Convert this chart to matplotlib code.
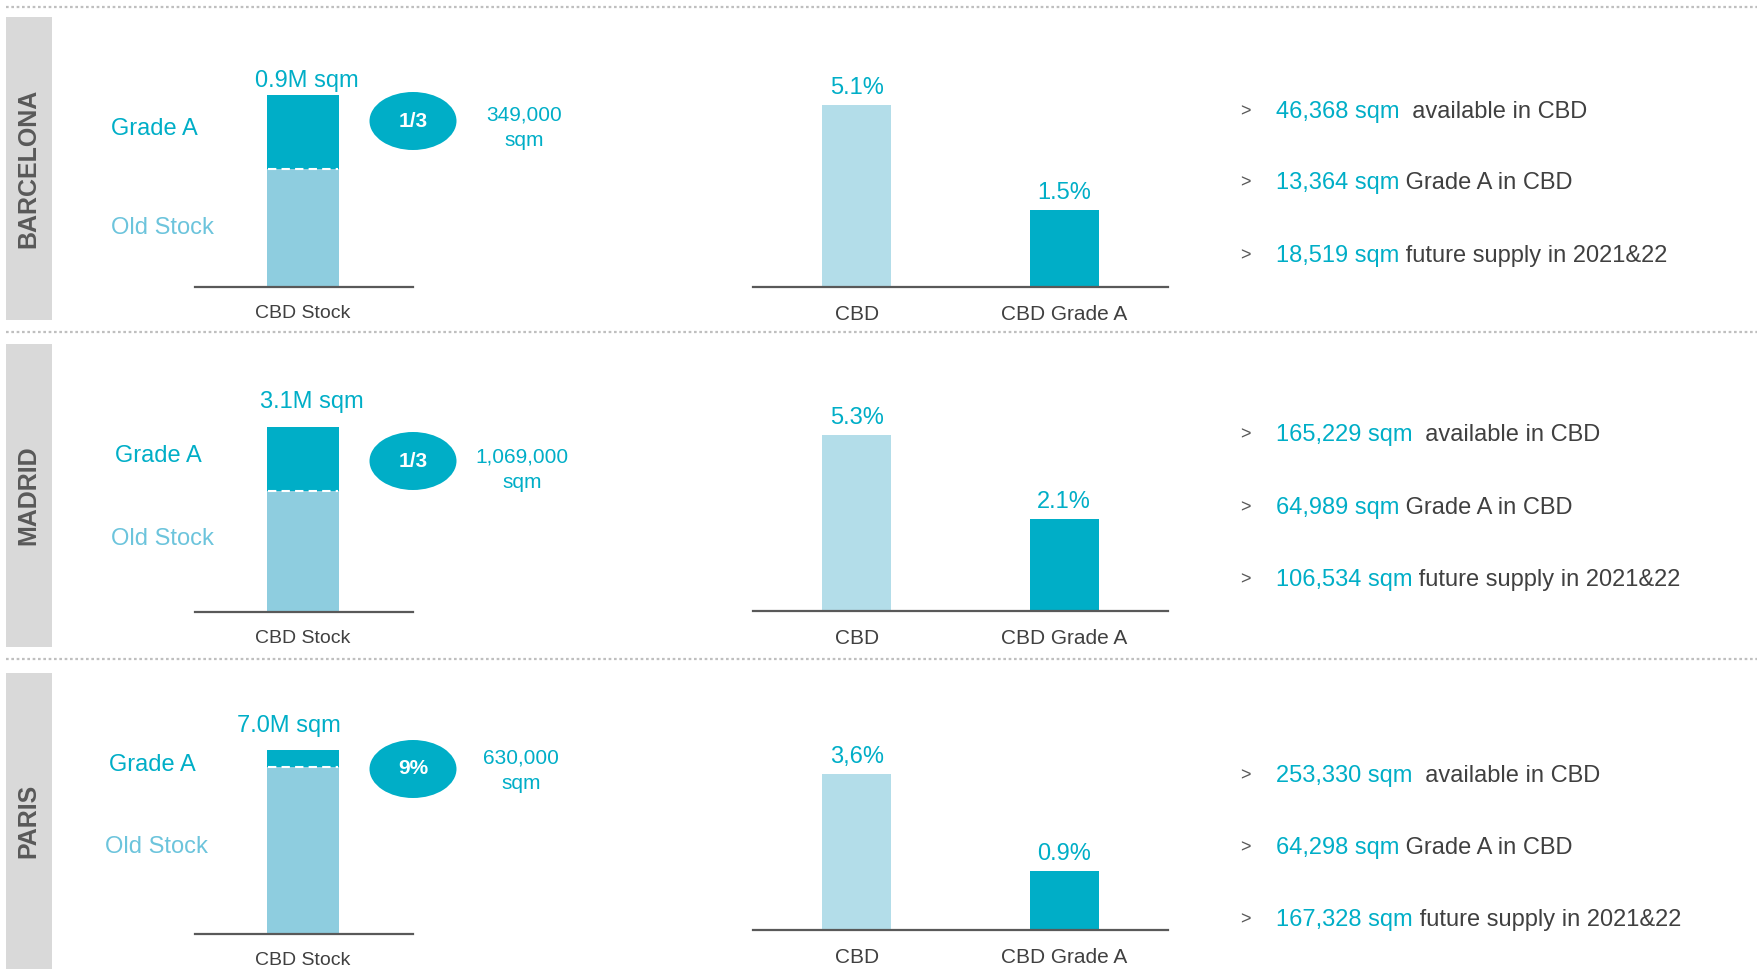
import numpy as np
import matplotlib
matplotlib.use("Agg")
import matplotlib.pyplot as plt
from matplotlib.patches import Ellipse, Rectangle

plt.rcParams['font.family'] = ['Liberation Sans', 'DejaVu Sans']

# ---------------- data ----------------
cities = ["BARCELONA", "MADRID", "PARIS"]
stock_total = [0.9e6, 3.1e6, 7.0e6]
stock_grade_a = [349000, 1069000, 630000]
stock_total_labels = ["0.9M sqm", "3.1M sqm", "7.0M sqm"]
grade_a_labels = ["349,000\nsqm", "1,069,000\nsqm", "630,000\nsqm"]
share_labels = ["1/3", "1/3", "9%"]
stock_tick = ["CBD Stock"]

vacancy_cats = ["CBD", "CBD Grade A"]
vacancy_cbd = [5.1, 5.3, 3.6]
vacancy_grade_a = [1.5, 2.1, 0.9]
vacancy_labels = [["5.1%", "1.5%"], ["5.3%", "2.1%"], ["3,6%", "0.9%"]]

bullet_values = [
    ["46,368 sqm", "13,364 sqm", "18,519 sqm"],
    ["165,229 sqm", "64,989 sqm", "106,534 sqm"],
    ["253,330 sqm", "64,298 sqm", "167,328 sqm"],
]
bullet_texts = ["  available in CBD", " Grade A in CBD", " future supply in 2021&22"]

# ---------------- styles ----------------
TEAL = "#00AEC7"
LIGHT_STOCK = "#8ECDDF"
LIGHT_CBD = "#B3DDE9"
OLD_TXT = "#6CC4DC"
DARK_TXT = "#404040"
AXIS = "#595959"
SIDE = "#D9D9D9"
SEP = "#BFBFBF"

W, H = 1758, 969
fig = plt.figure(figsize=(W / 100, H / 100), dpi=100)

# overlay axes in pixel coordinates (y down)
ov = fig.add_axes([0, 0, 1, 1])
ov.set_xlim(0, W)
ov.set_ylim(H, 0)
ov.axis("off")

def add_px_axes(x0, x1, ytop, ybot):
    return fig.add_axes([x0 / W, 1 - ybot / H, (x1 - x0) / W, (ybot - ytop) / H])

# layout (pixels)
sep_y = [7, 332, 659]
side_top = [17, 344, 673]
side_bot = [320, 647, 969]
stock_base = [287, 612, 934]
stock_top = [95, 427, 750]
stock_x0, stock_x1, stock_cx, stock_w = 195, 413, 303, 72
vac_base = [287, 611, 930]
vac_top = [105, 435, 774]
vac_x0, vac_x1 = 753, 1168
gradeA_lbl = [(111, 129), (115, 456), (109, 765)]
old_lbl = [(111, 228), (111, 539), (105, 847)]
ell_c = [(413, 121), (413, 461), (413, 769)]
amt_c = [(524, 128), (522, 470), (521, 771)]
total_dx = [4, 9, -14]
total_dy = [10, 18, 17]
bullet_y = [[112, 183, 256], [435, 508, 580], [776, 848, 920]]

for y in sep_y:
    ov.plot([6, W], [y, y], color=SEP, lw=1.6, linestyle=(0, (1.2, 1.2)))

pw = lambda v: np.sign(v) * np.abs(v) ** 0.7
pw_inv = lambda u: np.sign(u) * np.abs(u) ** (1 / 0.7)

for i, city in enumerate(cities):
    # side band
    ov.add_patch(Rectangle((6, side_top[i]), 46, side_bot[i] - side_top[i],
                           facecolor=SIDE, edgecolor="none"))
    ov.text(28, (side_top[i] + side_bot[i]) / 2, city, rotation=90, ha="center",
            va="center", fontsize=18, fontweight="bold", color=AXIS)

    # ---- stock panel ----
    ax = add_px_axes(stock_x0, stock_x1, stock_top[i], stock_base[i])
    old = stock_total[i] - stock_grade_a[i]
    ax.bar(0, old, width=1, color=LIGHT_STOCK)
    ax.bar(0, stock_grade_a[i], bottom=old, width=1, color=TEAL)
    ax.hlines(old, -0.48, 0.48, colors="white", linestyles=(0, (4, 2.5)), lw=1.5)
    ax.set_xlim(-(stock_cx - stock_x0) / stock_w, (stock_x1 - stock_cx) / stock_w)
    ax.set_ylim(0, stock_total[i])
    ax.set_xticks([0])
    ax.set_xticklabels(stock_tick, fontsize=14, color=DARK_TXT)
    ax.tick_params(axis="x", length=0, pad=13)
    ax.set_yticks([])
    for s in ["top", "left", "right"]:
        ax.spines[s].set_visible(False)
    ax.spines["bottom"].set_color(AXIS)
    ax.spines["bottom"].set_linewidth(1.6)
    ax.patch.set_visible(False)
    ax.annotate(stock_total_labels[i], (0, stock_total[i]),
                xytext=(total_dx[i] * 0.72, total_dy[i]),
                textcoords="offset points", ha="center", va="center", fontsize=17,
                color=TEAL, annotation_clip=False)

    ov.text(gradeA_lbl[i][0], gradeA_lbl[i][1], "Grade A", ha="left", va="center",
            fontsize=17, color=TEAL)
    ov.text(old_lbl[i][0], old_lbl[i][1], "Old Stock", ha="left", va="center",
            fontsize=17, color=OLD_TXT)
    ov.add_patch(Ellipse(ell_c[i], 87, 58, facecolor=TEAL, edgecolor="none"))
    ov.text(ell_c[i][0], ell_c[i][1], share_labels[i], ha="center", va="center",
            fontsize=15, fontweight="bold", color="white")
    ov.text(amt_c[i][0], amt_c[i][1], grade_a_labels[i], ha="center", va="center",
            fontsize=15, color=TEAL, linespacing=1.45)

    # ---- vacancy panel ----
    vx = add_px_axes(vac_x0, vac_x1, vac_top[i], vac_base[i])
    vx.set_yscale("function", functions=(pw, pw_inv))
    vals = [vacancy_cbd[i], vacancy_grade_a[i]]
    vx.bar([0, 1], vals, width=0.333, color=[LIGHT_CBD, TEAL])
    vx.set_xlim(-0.5, 1.5)
    vx.set_ylim(0, vacancy_cbd[i])
    vx.set_xticks([0, 1])
    vx.set_xticklabels(vacancy_cats, fontsize=15, color=DARK_TXT)
    vx.tick_params(axis="x", length=0, pad=13)
    vx.set_yticks([])
    vx.yaxis.set_minor_locator(matplotlib.ticker.NullLocator())
    for s in ["top", "left", "right"]:
        vx.spines[s].set_visible(False)
    vx.spines["bottom"].set_color(AXIS)
    vx.spines["bottom"].set_linewidth(1.6)
    vx.patch.set_visible(False)
    for j, v in enumerate(vals):
        vx.annotate(vacancy_labels[i][j], (j, v), xytext=(0, 12),
                    textcoords="offset points", ha="center", va="center",
                    fontsize=17, color=TEAL, annotation_clip=False)

    # ---- bullets ----
    for k in range(3):
        yb = bullet_y[i][k]
        ov.text(1240, yb, ">", ha="left", va="center", fontsize=13, color=AXIS)
        t1 = ov.text(1276, yb, bullet_values[i][k], ha="left", va="center",
                     fontsize=17, color=TEAL)
        ov.annotate(bullet_texts[k], xy=(1, 0), xycoords=t1, ha="left", va="bottom",
                    fontsize=17, color=DARK_TXT)

fig.savefig("out.png", dpi=100)
